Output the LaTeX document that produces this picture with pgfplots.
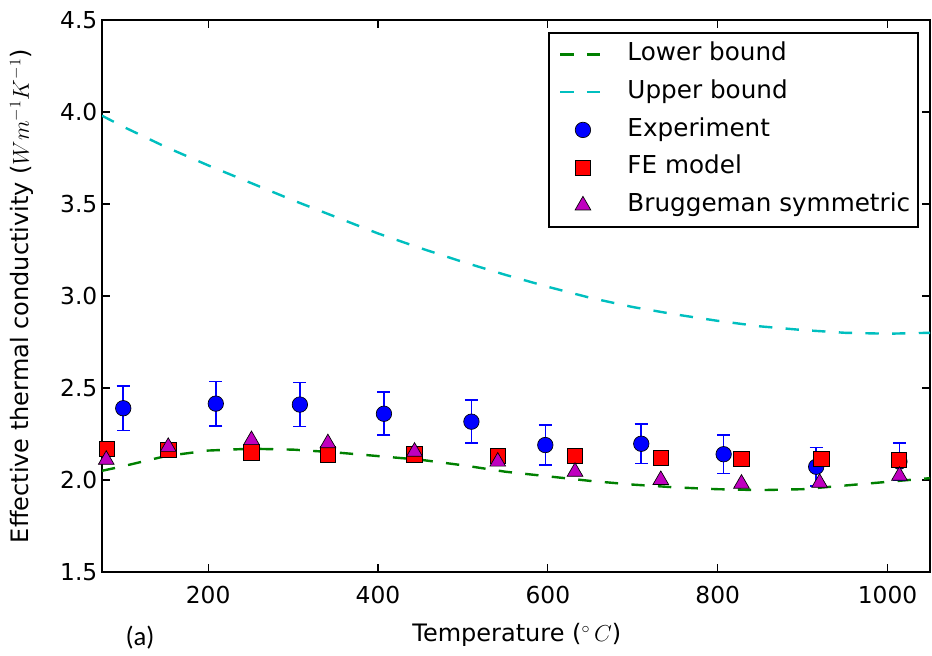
\documentclass[border=0pt]{standalone}
\usepackage{fontspec}
\setmainfont{DejaVu Sans}
\newfontfamily\calibri{Carlito}
\usepackage{pgfplots}
\pgfplotsset{compat=1.18}

\definecolor{mplgreen}{rgb}{0,0.5,0}
\definecolor{mplcyan}{rgb}{0,0.75,0.75}
\definecolor{mplmag}{rgb}{0.75,0,0.75}

\begin{document}
\begin{tikzpicture}
\begin{axis}[
    scale only axis,
    width=621pt, height=414pt,
    xmin=75, xmax=1050, ymin=1.5, ymax=4.5,
    xtick={200,400,600,800,1000},
    ytick={1.5,2.0,2.5,3.0,3.5,4.0,4.5},
    /pgf/number format/assume math mode=true,
    /pgf/number format/1000 sep={},
    yticklabel style={/pgf/number format/fixed,/pgf/number format/fixed zerofill,/pgf/number format/precision=1},
    tick label style={font=\fontsize{17.5}{20}\selectfont},
    xticklabel style={yshift=-7pt},
    tick align=inside, major tick length=6pt,
    every tick/.style={black, line width=0.9pt},
    axis line style={line width=1.6pt},
    xlabel={Temperature ($^\circ\, C$)},
    ylabel={Effective thermal conductivity ($Wm^{-1}K^{-1}$)},
    label style={font=\fontsize{18}{20}\selectfont},
    xlabel style={at={(axis description cs:0.501,-0.114)}, anchor=center},
    ylabel style={at={(axis description cs:-0.0966,0.5)}, anchor=center},
    legend style={at={(1,1)}, anchor=north east, xshift=-8.25pt, yshift=-9pt,
        draw=black, line width=1.2pt, font=\fontsize{18.5}{20}\selectfont,
        inner xsep=4pt, inner ysep=5.5pt, row sep=6.8pt,
        nodes={text height=13.5pt, text depth=4pt}},
    legend cell align=left,
    legend image code/.code={\draw[mark repeat=2,mark phase=2,#1] plot coordinates {(0pt,0pt)(17pt,0pt)(34pt,0pt)};
        \path (-3.5pt,0pt) (47.5pt,0pt);},
]
\addplot[mplgreen, line width=1.8pt, dash pattern=on 10pt off 10pt] coordinates {
(75,2.05) (100,2.075) (150,2.13) (200,2.16) (250,2.17) (300,2.165) (350,2.15)
(400,2.13) (450,2.11) (500,2.08) (550,2.045) (600,2.02) (650,1.995) (700,1.975)
(750,1.96) (800,1.95) (850,1.945) (900,1.95) (950,1.97) (1000,1.99) (1050,2.01)
};
\addlegendentry{Lower bound}
\addplot[mplcyan, line width=1.8pt, dash pattern=on 10pt off 10pt] coordinates {
(75,3.98) (100,3.92) (150,3.81) (200,3.71) (250,3.615) (300,3.52) (350,3.43)
(400,3.34) (450,3.26) (500,3.185) (550,3.115) (600,3.05) (650,2.99) (700,2.94)
(750,2.90) (800,2.865) (850,2.835) (900,2.815) (950,2.80) (1000,2.795) (1050,2.80)
};
\addlegendentry{Upper bound}
\addplot[only marks, mark=*, mark size=5.8pt,
    mark options={fill=blue, draw=black, line width=0.5pt},
    error bars/.cd, y dir=both, y explicit,
    error bar style={blue, line width=1.2pt},
    error mark options={blue, line width=1.2pt, mark size=4.9pt, rotate=90}]
coordinates {
(100,2.39) +- (0,0.12)
(209,2.415) +- (0,0.12)
(308,2.41) +- (0,0.12)
(407,2.36) +- (0,0.117)
(510,2.317) +- (0,0.117)
(597,2.19) +- (0,0.11)
(710,2.197) +- (0,0.107)
(807,2.14) +- (0,0.105)
(916,2.072) +- (0,0.105)
(1014,2.10) +- (0,0.10)
};
\addlegendentry{Experiment}
\addplot[only marks, mark=square*, mark size=5.8pt,
    mark options={fill=red, draw=black, line width=0.5pt}]
coordinates {
(81,2.17) (153,2.163) (251,2.15) (341,2.14) (443,2.14) (541,2.13)
(632,2.13) (733,2.12) (828,2.114) (922,2.114) (1013,2.11)
};
\addlegendentry{FE model}
\addplot[only marks, mark=triangle*, mark size=6.8pt,
    mark options={fill=mplmag, draw=black, line width=0.5pt}]
coordinates {
(80,2.11) (153,2.18) (251,2.217) (341,2.20) (443,2.154) (541,2.10)
(632,2.045) (733,2.0) (828,1.98) (920,1.985) (1014,2.023)
};
\addlegendentry{Bruggeman symmetric}
\end{axis}
\node[font=\calibri\fontsize{20}{22}\selectfont] at ([xshift=28.5pt,yshift=-49.5pt]current axis.south west) {(a)};
\pgfresetboundingbox
\path ([xshift=-76.5pt,yshift=-62.25pt]current axis.south west) rectangle ([xshift=1.5pt,yshift=15pt]current axis.north east);
\end{tikzpicture}
\end{document}
